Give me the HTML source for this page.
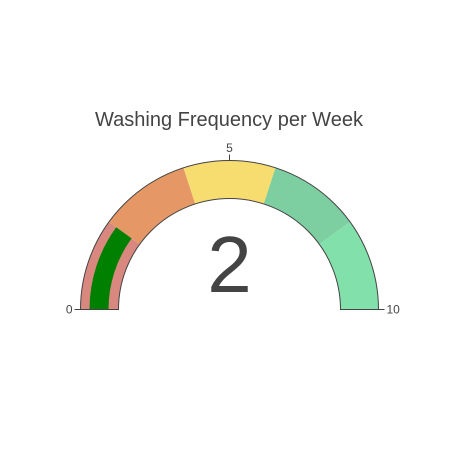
<!DOCTYPE html>
<html><head><meta charset="utf-8"><style>
body{margin:0;background:#fff;font-family:"Liberation Sans",sans-serif}
</style></head><body>
<svg width="457" height="450">
<text x="229" y="126" text-anchor="middle" font-size="20" fill="#444">Washing Frequency per Week</text>
<g id="g"></g>
</svg>
<script>
const rangeMin=0, rangeMax=10;
const stepStarts=[0,2,4,6,8];
const stepEnds=[2,4,6,8,10];
const stepColors=["#d98880","#e59866","#f7dc6f","#7dcea0","#82e0aa"];
const value=[2];
const tickValues=[0,5,10];
const cx=229.5, cy=309.5, R=149, r=111, bR=140, br=121;
const g=document.getElementById('g');
const NS='http://www.w3.org/2000/svg';
function ang(v){return Math.PI*(1-(v-rangeMin)/(rangeMax-rangeMin));}
function pt(v,rad){const a=ang(v);return [cx+rad*Math.cos(a),cy-rad*Math.sin(a)];}
function arc(a,b,ro,ri){const p1=pt(a,ro),p2=pt(b,ro),p3=pt(b,ri),p4=pt(a,ri);
return `M${p1}A${ro},${ro} 0 0 1 ${p2}L${p3}A${ri},${ri} 0 0 0 ${p4}Z`;}
stepStarts.forEach((s,i)=>{const p=document.createElementNS(NS,'path');
p.setAttribute('d',arc(s,stepEnds[i],R,r));p.setAttribute('fill',stepColors[i]);


g.appendChild(p);});
const bar=document.createElementNS(NS,'path');
bar.setAttribute('d',arc(rangeMin,value[0],bR,br));bar.setAttribute('fill','#008000');


g.appendChild(bar);
const ol=document.createElementNS(NS,'path');
ol.setAttribute('d',arc(rangeMin,rangeMax,R,r));ol.setAttribute('fill','none');ol.setAttribute('stroke','#444');ol.setAttribute('stroke-width','1');


g.appendChild(ol);
tickValues.forEach(v=>{const a=pt(v,R),b=pt(v,R+6),l=pt(v,R+8);
const t=document.createElementNS(NS,'line');t.setAttribute('x1',a[0]);t.setAttribute('y1',a[1]);t.setAttribute('x2',b[0]);t.setAttribute('y2',b[1]);t.setAttribute('stroke','#444');


g.appendChild(t);
const tx=document.createElementNS(NS,'text');tx.setAttribute('x',l[0]);tx.setAttribute('y',l[1]+4);
tx.setAttribute('text-anchor',v===rangeMin?'end':v===rangeMax?'start':'middle');
if(v!==rangeMin&&v!==rangeMax)tx.setAttribute('y',l[1]-0.5);
tx.setAttribute('font-size','12');tx.setAttribute('fill','#444');tx.textContent=v;


g.appendChild(tx);});
const num=document.createElementNS(NS,'text');num.setAttribute('x',cx);num.setAttribute('y',292);
num.setAttribute('text-anchor','middle');num.setAttribute('font-size','80');num.setAttribute('fill','#444');num.textContent=value[0];


g.appendChild(num);
</script>
</body></html>
